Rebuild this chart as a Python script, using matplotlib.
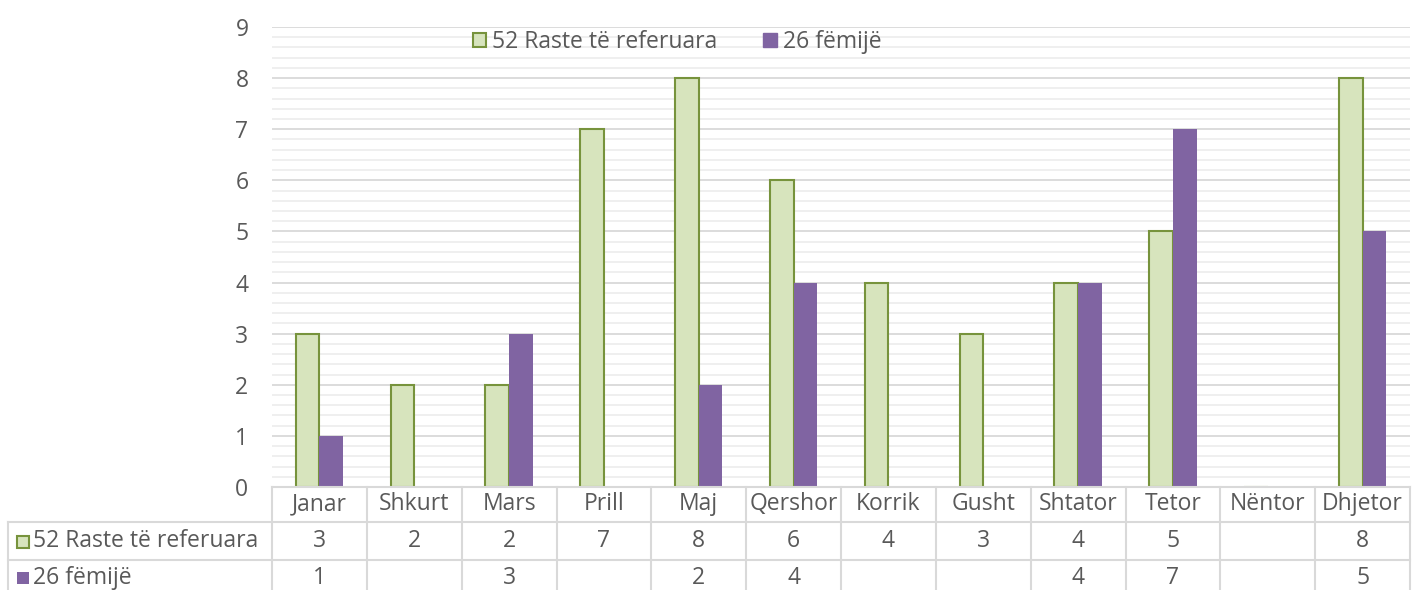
import matplotlib
matplotlib.use("Agg")
import matplotlib.pyplot as plt
from matplotlib.ticker import MultipleLocator
from matplotlib.patches import Rectangle
from matplotlib.lines import Line2D

months = ["Janar", "Shkurt", "Mars", "Prill", "Maj", "Qershor", "Korrik",
          "Gusht", "Shtator", "Tetor", "Nëntor", "Dhjetor"]
series1_name = "52 Raste të referuara"
series2_name = "26 fëmijë"
raste = [3, 2, 2, 7, 8, 6, 4, 3, 4, 5, None, 8]
femije = [1, None, 3, None, 2, 4, None, None, 4, 7, None, 5]

green_face = "#d7e4bd"
green_edge = "#77933c"
purple = "#8064a2"
text_col = "#595959"
grid_major = "#d9d9d9"
grid_minor = "#eeeeee"
table_line = "#d9d9d9"
FS = 16.5

plt.rcParams['font.family'] = ['Open Sans', 'DejaVu Sans']

W, H = 1419, 590
fig = plt.figure(figsize=(W / 100, H / 100), dpi=100)

x0, x1 = 272, 1410
y_top, y_bot = 27, 487
ax = fig.add_axes([x0 / W, 1 - y_bot / H, (x1 - x0) / W, (y_bot - y_top) / H])

n = len(months)
xs = list(range(n))
bw = 0.25
v1 = [v if v is not None else 0 for v in raste]
v2 = [v if v is not None else 0 for v in femije]
ax.bar([x - bw / 2 for x in xs], v1, width=bw, color=green_face,
       edgecolor=green_edge, linewidth=1.5, zorder=3)
ax.bar([x + bw / 2 for x in xs], v2, width=bw, color=purple,
       edgecolor=purple, linewidth=0, zorder=3)

ax.set_xlim(-0.5, n - 0.5)
ax.set_ylim(0, 9)
ax.yaxis.set_major_locator(MultipleLocator(1))
ax.yaxis.set_minor_locator(MultipleLocator(0.2))
ax.grid(axis='y', which='major', color=grid_major, linewidth=1.3, zorder=0)
ax.grid(axis='y', which='minor', color=grid_minor, linewidth=1.3, zorder=0)
ax.set_axisbelow(True)
for s in ax.spines.values():
    s.set_visible(False)
ax.tick_params(axis='y', which='both', length=0, labelsize=FS, labelcolor=text_col, pad=17)
ax.tick_params(axis='x', which='both', length=0, labelbottom=False)

# legend
handles = [Rectangle((0, 0), 1, 1, facecolor=green_face, edgecolor=green_edge, linewidth=1.5),
           Rectangle((0, 0), 1, 1, facecolor=purple, edgecolor=purple)]
fig.legend(handles, [series1_name, series2_name], loc='center',
           bbox_to_anchor=(677 / W, 1 - 42 / H), ncol=2, frameon=False,
           fontsize=FS, labelcolor=text_col, handlelength=0.6, handleheight=0.6,
           handletextpad=0.25, columnspacing=2.0)

# data table
def fy(py):
    return 1 - py / H

def fx_data(xd):
    return ax.transData.transform((xd, 0))[0] / W

r0, r1, r2, r3 = 487, 522, 560, 590
left = 8
lw = 1.5
fig.add_artist(Line2D([x0 / W, x1 / W], [fy(r0), fy(r0)], color=table_line, lw=lw))
for r in (r1, r2):
    fig.add_artist(Line2D([left / W, x1 / W], [fy(r), fy(r)], color=table_line, lw=lw))
for i in range(n + 1):
    xf = fx_data(i - 0.5)
    fig.add_artist(Line2D([xf, xf], [fy(r0), fy(r3)], color=table_line, lw=lw))
fig.add_artist(Line2D([left / W, left / W], [fy(r1), fy(r3)], color=table_line, lw=lw))

for i, m in enumerate(months):
    xf = fx_data(i)
    fig.text(xf, fy((r0 + r1) / 2), m, ha='center', va='center', fontsize=FS, color=text_col)
    if raste[i] is not None:
        fig.text(xf, fy((r1 + r2) / 2), str(raste[i]), ha='center', va='center',
                 fontsize=FS, color=text_col)
    if femije[i] is not None:
        fig.text(xf, fy((r2 + r3) / 2 + 3), str(femije[i]), ha='center', va='center',
                 fontsize=FS, color=text_col)

fig.add_artist(Rectangle((17 / W, fy(548)), 12 / W, 12 / H, facecolor=green_face,
                         edgecolor=green_edge, linewidth=1.5, transform=fig.transFigure))
fig.text(33 / W, fy((r1 + r2) / 2), series1_name, ha='left', va='center', fontsize=FS, color=text_col)
fig.add_artist(Rectangle((17 / W, fy(584)), 12 / W, 12 / H, facecolor=purple,
                         edgecolor=purple, linewidth=0, transform=fig.transFigure))
fig.text(33 / W, fy((r2 + r3) / 2 + 3), series2_name, ha='left', va='center', fontsize=FS, color=text_col)

fig.savefig("out.png", dpi=100)
